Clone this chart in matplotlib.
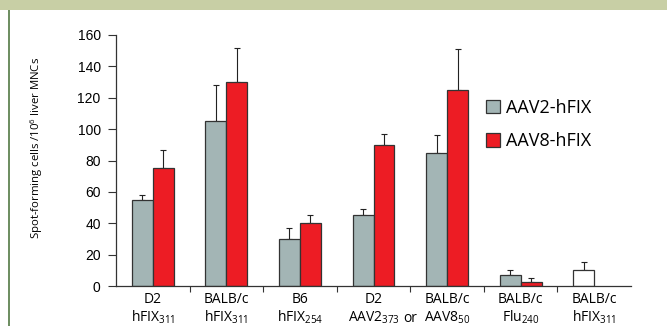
import matplotlib
matplotlib.use("Agg")
import matplotlib.pyplot as plt
from matplotlib.patches import Rectangle, Patch
import numpy as np

# ---- data ----
strains = ["D2", "BALB/c", "B6", "D2", "BALB/c", "BALB/c", "BALB/c"]
epitopes = ["hFIX$\\mathregular{_{311}}$", "hFIX$\\mathregular{_{311}}$", "hFIX$\\mathregular{_{254}}$",
            "AAV2$\\mathregular{_{373}}$", "AAV8$\\mathregular{_{50}}$", "Flu$\\mathregular{_{240}}$",
            "hFIX$\\mathregular{_{311}}$"]
aav2_vals = [55, 105, 30, 45, 85, 7]
aav2_err = [3, 23, 7, 4, 11, 3]
aav8_vals = [75, 130, 40, 90, 125, 2.5]
aav8_err = [12, 22, 5, 7, 26, 2.5]
ctrl_vals = [10]
ctrl_err = [5]
series_names = ["AAV2-hFIX", "AAV8-hFIX"]
yticks = [0, 20, 40, 60, 80, 100, 120, 140, 160]

GRAY = "#a3b5b5"
RED = "#ed1c24"
EDGE = "#333333"

W, H = 667, 326
fig = plt.figure(figsize=(W / 100, H / 100), dpi=100)

# header band and left border
fig.patches.append(Rectangle((0, 1 - 10 / H), 1, 10 / H, transform=fig.transFigure,
                             facecolor="#c8cfa5", edgecolor="none", zorder=0))
fig.patches.append(Rectangle((8 / W, 0), 2 / W, 1 - 10 / H, transform=fig.transFigure,
                             facecolor="#6f8f63", edgecolor="none", zorder=0))

ax = fig.add_axes([116 / W, (H - 286) / H, (631 - 116) / W, (286 - 35) / H])

w = 0.285
n = len(aav2_vals)
x = np.arange(n)
ax.bar(x - w / 2, aav2_vals, w, color=GRAY, edgecolor=EDGE, linewidth=0.9, zorder=2)
ax.bar(x + w / 2, aav8_vals, w, color=RED, edgecolor=EDGE, linewidth=0.9, zorder=2)
xc = np.arange(n, n + len(ctrl_vals))
ax.bar(xc - w / 2, ctrl_vals, w, color="white", edgecolor=EDGE, linewidth=0.9, zorder=2)

ekw = dict(fmt="none", ecolor="#222222", elinewidth=0.8, capsize=2.2, capthick=0.8, zorder=1)
ax.errorbar(x - w / 2, aav2_vals, yerr=[np.zeros(n), aav2_err], **ekw)
ax.errorbar(x + w / 2, aav8_vals, yerr=[np.zeros(n), aav8_err], **ekw)
ax.errorbar(xc - w / 2, ctrl_vals, yerr=[np.zeros(len(ctrl_vals)), ctrl_err], **ekw)

ax.set_xlim(-0.5, 6.5)
ax.set_ylim(0, 160)
ax.set_yticks(yticks)
ax.set_yticklabels([str(t) for t in yticks], family=["Liberation Sans Narrow", "Liberation Sans", "DejaVu Sans"],
                   fontsize=10)
ax.tick_params(axis="y", direction="out", length=6, width=0.8, pad=5, color=EDGE)

ax.set_xticks(np.arange(0.5, 6.5, 1.0))
ax.set_xticklabels([])
ax.tick_params(axis="x", direction="out", length=4, width=0.8, color=EDGE)

for s in ["top", "right"]:
    ax.spines[s].set_visible(False)
for s in ["left", "bottom"]:
    ax.spines[s].set_color(EDGE)
    ax.spines[s].set_linewidth(0.9)

lab_font = ["Open Sans", "DejaVu Sans"]
tr = ax.get_xaxis_transform()
y1 = -(303 - 286) / 251
y2 = -(322 - 286) / 251
for i, (st, ep) in enumerate(zip(strains, epitopes)):
    ax.text(i, y1, st, transform=tr, ha="center", va="baseline", fontsize=10, family=lab_font)
    ax.text(i, y2, ep, transform=tr, ha="center", va="baseline", fontsize=10, family=lab_font)
ax.text(3.5, y2, "or", transform=tr, ha="center", va="baseline", fontsize=10, family=lab_font)

ax.set_ylabel("Spot-forming cells /10$^{\\mathregular{6}}$ liver MNCs", fontsize=8.2, family=lab_font)
ax.yaxis.set_label_coords(-0.138, 0.55)

handles = [Patch(facecolor=GRAY, edgecolor=EDGE, linewidth=0.9),
           Patch(facecolor=RED, edgecolor=EDGE, linewidth=0.9)]
ax.legend(handles, series_names, loc="upper left", bbox_to_anchor=(486 / W, 1 - 99 / H),
          bbox_transform=fig.transFigure, frameon=False, borderpad=0, borderaxespad=0,
          handlelength=0.75, handleheight=0.75, handletextpad=0.35, labelspacing=0.85,
          prop={"family": lab_font, "size": 13})

fig.savefig("out.png", dpi=100, facecolor="white")
